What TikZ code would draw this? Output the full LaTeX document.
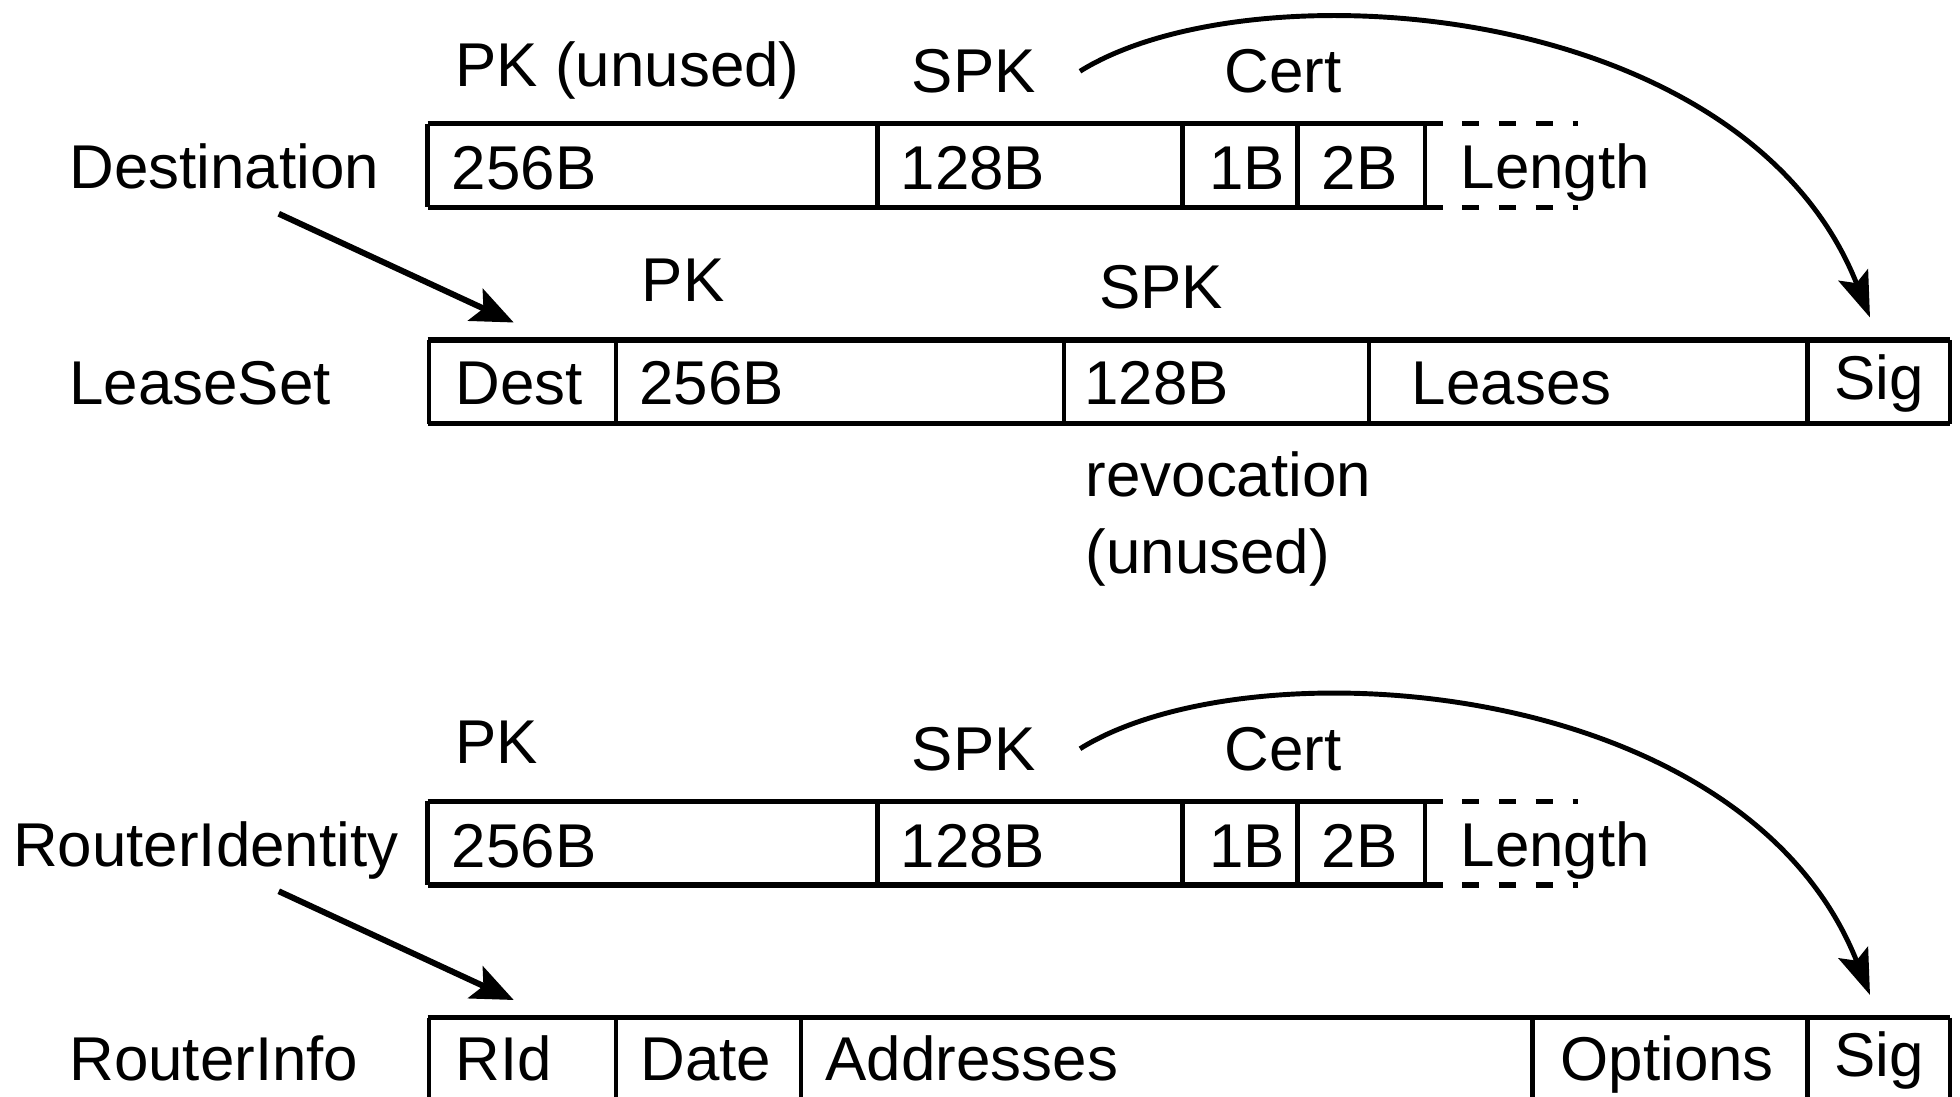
\documentclass[tikz,border=0pt]{standalone}
\usepackage{fontspec}
\setmainfont{Liberation Sans}
\usetikzlibrary{arrows.meta}
\begin{document}
\begin{tikzpicture}[x=0.0125cm, y=-0.0125cm,
  lbl/.style={anchor=base west, inner sep=0pt, font=\fontsize{17.6}{20}\selectfont},
  hline/.style={line width=1.55pt},
  vline/.style={line width=1.2pt},
  ext/.style={line width=1.55pt, dash pattern=on 5pt off 5.5pt},
  curvearrow/.style={line width=1.4pt, -{Stealth[length=13pt,width=9pt,inset=2.5pt]}},
  ptrarrow/.style={line width=1.7pt, -{Stealth[length=12pt,width=10pt,inset=2.5pt]}},
]
\useasboundingbox (0,0) rectangle (1568,877);
\clip (0,0) rectangle (1568,877);

% ---------------- Destination ----------------
\draw[hline] (342,99) -- (1140,99) (342,166) -- (1140,166);
\draw[ext] (1140,99) -- (1262,99) (1140,166) -- (1262,166);
\foreach \x in {342,702,946,1038,1140} \draw[vline] (\x,99) -- (\x,166);
\node[lbl] (dest) at (55,151) {Destination};
\node[lbl] (d256) at (361,152) {256B};
\node[lbl] (d128) at (720,152) {128B};
\node[lbl] (d1b) at (967,152) {1B};
\node[lbl] (d2b) at (1057,152) {2B};
\node[lbl] (dlen) at (1168,151) {Length};
\node[lbl] (dpk) at (364,69) {PK (unused)};
\node[lbl] (dspk) at (729,74) {SPK};
\node[lbl] (dcert) at (979,74) {Cert};

% ---------------- LeaseSet ----------------
\draw[hline] (342,272) -- (1560,272) (342,339) -- (1560,339);
\foreach \x in {343,493,851,1095,1446,1560} \draw[vline] (\x,272) -- (\x,339);
\node[lbl] (ls) at (55,324) {LeaseSet};
\node[lbl] (lsdest) at (364,324) {Dest};
\node[lbl] (ls256) at (511,324) {256B};
\node[lbl] (ls128) at (867,324) {128B};
\node[lbl] (lslease) at (1129,324) {Leases};
\node[lbl] (lssig) at (1467,320) {Sig};
\node[lbl] (lspk) at (513,241) {PK};
\node[lbl] (lsspk) at (879,247) {SPK};
\node[lbl] (lsrev) at (868,397) {revocation};
\node[lbl] (lsunused) at (868,459) {(unused)};

\coordinate (dA) at (223,171);
\coordinate (dB) at (411,258);
\draw[ptrarrow] (dA) -- (dB);
\coordinate (dC) at (864,57);
\coordinate (dD) at (1496,254);
\draw[curvearrow] (dC) .. controls (1000,-28) and (1395,-2) .. (dD);

% ---------------- RouterIdentity ----------------
\draw[hline] (342,641) -- (1140,641) (342,708) -- (1140,708);
\draw[ext] (1140,641) -- (1262,641) (1140,708) -- (1262,708);
\foreach \x in {342,702,946,1038,1140} \draw[vline] (\x,641) -- (\x,708);
\node[lbl] (rid) at (10,693) {RouterIdentity};
\node[lbl] (r256) at (361,694) {256B};
\node[lbl] (r128) at (720,694) {128B};
\node[lbl] (r1b) at (967,694) {1B};
\node[lbl] (r2b) at (1057,694) {2B};
\node[lbl] (rlen) at (1168,693) {Length};
\node[lbl] (rpk) at (364,611) {PK};
\node[lbl] (rspk) at (729,616) {SPK};
\node[lbl] (rcert) at (979,616) {Cert};

% ---------------- RouterInfo ----------------
\draw[hline] (342,814) -- (1560,814) (342,905) -- (1560,905);
\foreach \x in {343,493,641,1226,1446,1560} \draw[vline] (\x,814) -- (\x,905);
\node[lbl] (ri) at (55,864) {RouterInfo};
\node[lbl] (ririd) at (364,864) {RId};
\node[lbl] (ridate) at (512,864) {Date};
\node[lbl] (riaddr) at (660,864) {Addresses};
\node[lbl] (riopt) at (1248,864) {Options};
\node[lbl] (risig) at (1467,861) {Sig};

\coordinate (rA) at (223,713);
\coordinate (rB) at (411,800);
\draw[ptrarrow] (rA) -- (rB);
\coordinate (rC) at (864,599);
\coordinate (rD) at (1496,796);
\draw[curvearrow] (rC) .. controls (1000,514) and (1395,540) .. (rD);
\end{tikzpicture}
\end{document}
